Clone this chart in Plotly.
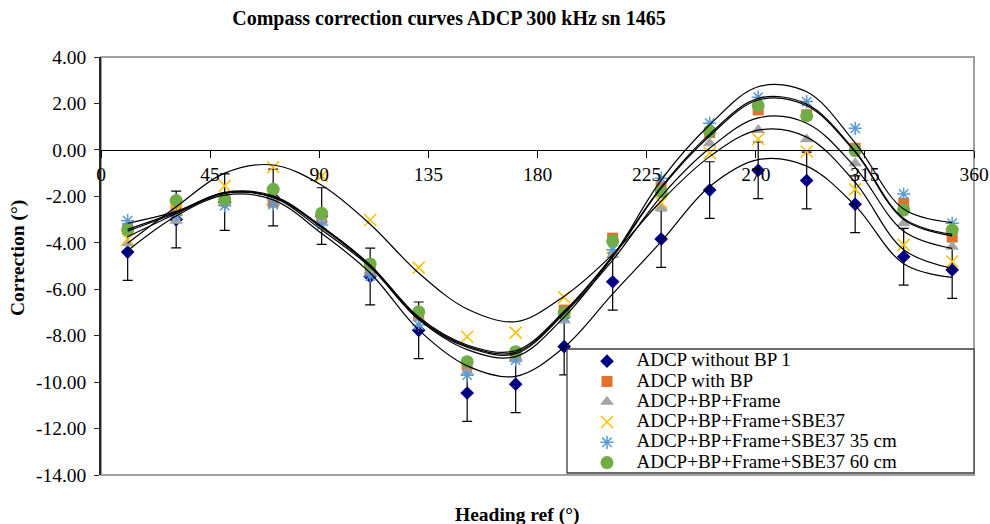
import plotly.graph_objects as go

# ---------------- data ----------------
heading = [11, 31, 51, 71, 91, 111, 131, 151, 171, 191, 211, 231, 251, 271, 291, 311, 331, 351]

adcp_no_bp = [-4.40, -3.00, -2.25, -2.05, -2.85, -5.45, -7.77, -10.47, -10.09, -8.47, -5.68, -3.84, -1.73, -0.88, -1.32, -2.34, -4.60, -5.17]
adcp_no_bp_err = [1.22] * 18
adcp_bp = [-3.40, -2.60, -2.20, -2.25, -2.95, -5.15, -7.07, -9.25, -8.91, -6.90, -3.80, -1.60, 0.75, 1.72, 1.51, 0.07, -2.30, -3.74]
adcp_bp_frame = [-4.02, -3.05, -2.25, -2.05, -3.00, -5.20, -7.25, -9.55, -9.00, -7.35, -4.53, -2.50, 0.29, 0.86, 0.46, -0.57, -3.16, -4.17]
adcp_sbe37 = [-3.85, -2.60, -1.55, -0.75, -1.12, -3.02, -5.07, -8.05, -7.87, -6.35, -4.20, -2.27, -0.14, 0.47, -0.07, -1.70, -4.09, -4.81]
adcp_sbe37_35 = [-3.05, -2.80, -2.40, -2.35, -3.23, -5.43, -7.54, -9.70, -9.05, -7.20, -4.30, -1.22, 1.15, 2.27, 2.08, 0.93, -1.90, -3.16]
adcp_sbe37_60 = [-3.45, -2.18, -2.13, -1.70, -2.73, -4.91, -6.97, -9.12, -8.69, -7.01, -3.92, -1.80, 0.79, 1.90, 1.47, -0.03, -2.59, -3.45]

# fitted correction curves
fit_no_bp = [-4.34, -2.85, -1.95, -2.15, -3.60, -5.30, -7.75, -9.30, -9.75, -8.50, -6.20, -3.95, -1.58, -0.42, -0.70, -2.40, -4.90, -5.49]
fit_bp = [-3.50, -2.72, -1.87, -2.02, -3.35, -5.00, -7.25, -8.45, -8.72, -7.00, -4.60, -1.65, 0.60, 2.15, 1.90, -0.10, -3.00, -3.70]
fit_bp_frame = [-3.74, -2.75, -1.85, -2.05, -3.45, -5.05, -7.30, -8.50, -8.78, -7.05, -4.75, -2.00, 0.07, 1.38, 1.15, -0.75, -3.50, -4.24]
fit_sbe37 = [-4.02, -2.45, -1.00, -0.65, -1.52, -3.20, -5.30, -6.85, -7.40, -6.30, -4.50, -2.20, -0.29, 0.85, 0.55, -1.40, -4.30, -5.10]
fit_sbe37_35 = [-3.16, -2.65, -1.85, -2.05, -3.30, -5.00, -7.30, -8.60, -8.90, -7.20, -4.60, -1.30, 1.08, 2.72, 2.50, 0.30, -2.55, -3.13]
fit_sbe37_60 = [-3.42, -2.68, -1.83, -1.98, -3.30, -4.95, -7.20, -8.40, -8.65, -6.95, -4.55, -1.60, 0.68, 2.22, 1.97, -0.05, -2.95, -3.64]

series_names = ["ADCP without BP 1", "ADCP with BP", "ADCP+BP+Frame",
                "ADCP+BP+Frame+SBE37", "ADCP+BP+Frame+SBE37 35 cm", "ADCP+BP+Frame+SBE37 60 cm"]

x_tickvals = [0, 45, 90, 135, 180, 225, 270, 315, 360]
x_ticktext = ["0", "45", "90", "135", "180", "225", "270", "315", "360"]
y_tickvals = [4, 2, 0, -2, -4, -6, -8, -10, -12, -14]
y_ticktext = ["4.00", "2.00", "0.00", "-2.00", "-4.00", "-6.00", "-8.00", "-10.00", "-12.00", "-14.00"]

title_text = "Compass correction curves ADCP 300 kHz sn 1465"
x_title = "Heading ref (°)"
y_title = "Correction (°)"

# ---------------- styling ----------------
FONT = "Liberation Serif, Times New Roman, serif"
styles = [
    dict(symbol="diamond", color="#000080", size=10.5),
    dict(symbol="square", color="#E0722E", size=11),
    dict(symbol="triangle-up", color="#A5A5A5", size=12),
    dict(symbol="x-thin", color="#FFC000", size=12),
    dict(symbol="asterisk", color="#5B9BD5", size=11),
    dict(symbol="circle", color="#70AD47", size=13),
]
values = [adcp_no_bp, adcp_bp, adcp_bp_frame, adcp_sbe37, adcp_sbe37_35, adcp_sbe37_60]
fits = [fit_no_bp, fit_bp, fit_bp_frame, fit_sbe37, fit_sbe37_35, fit_sbe37_60]

fig = go.Figure()

for i, (name, vals, st) in enumerate(zip(series_names, values, styles)):
    marker = dict(symbol=st["symbol"], color=st["color"], size=st["size"],
                  line=dict(width=0))
    if st["symbol"] in ("x-thin", "asterisk"):
        marker["line"] = dict(width=1.5, color=st["color"])
    tr = dict(x=heading, y=vals, mode="markers",
              name=f"<span style='font-size:19px'>&nbsp;&nbsp;{name}</span>",
              marker=marker, showlegend=True)
    if i == 0:
        tr["error_y"] = dict(type="data", array=adcp_no_bp_err, color="black", thickness=1.2, width=5)
    fig.add_trace(go.Scatter(**tr))

for f in fits:
    fig.add_trace(go.Scatter(x=heading, y=f, mode="lines", line=dict(color="black", width=1.2, shape="spline"),
                             showlegend=False, hoverinfo="skip"))

# plot area: x 101..974, y 57..475 px
L, R, T, B = 101, 974, 57, 475
W, H = 990, 524
pw, ph = R - L, B - T

def px2paper_x(px):
    return (px - L) / pw

def px2paper_y(py):
    return (B - py) / ph

fig.update_layout(
    width=W, height=H,
    margin=dict(l=L, r=W - R, t=T, b=H - B, autoexpand=False),
    paper_bgcolor="white", plot_bgcolor="white",
    font=dict(family=FONT, size=19.5, color="black"),
    title=dict(text=f"<b>{title_text}</b>", x=449 / W, xanchor="center", xref="container",
               y=1 - 18 / H, yanchor="middle", yref="container", font=dict(size=20, family=FONT, color="black")),
    showlegend=True,
    legend=dict(x=px2paper_x(587), y=px2paper_y(346), xanchor="left", yanchor="top",
                bgcolor="rgba(0,0,0,0)", borderwidth=0, font=dict(size=13.3, family=FONT, color="black")),
    xaxis=dict(range=[0, 360], tickvals=x_tickvals, ticktext=x_ticktext, showgrid=False, zeroline=False,
               showline=True, linecolor="black", linewidth=1.2, ticks="outside", ticklen=7, tickcolor="black",
               tickwidth=1.2, anchor="free", position=14 / 18, tickfont=dict(size=19.5, family=FONT)),
    yaxis=dict(range=[-14, 4], tickvals=y_tickvals, ticktext=y_ticktext, showgrid=False, zeroline=False,
               showline=True, linecolor="#262626", linewidth=1.6, ticks="outside", ticklen=5, tickcolor="#262626",
               tickwidth=1.2, ticklabelstandoff=4, tickfont=dict(size=19.5, family=FONT)),
    shapes=[
        dict(type="rect", xref="paper", yref="paper", x0=0, x1=1, y0=0, y1=1,
             line=dict(color="#A0A0A0", width=2), fillcolor="rgba(0,0,0,0)", layer="below"),
        dict(type="rect", xref="paper", yref="paper", x0=px2paper_x(567), x1=1, y0=px2paper_y(473), y1=px2paper_y(349),
             line=dict(color="#3C3C3C", width=1.3), fillcolor="white", layer="above"),
    ],
    annotations=[
        dict(text=f"<b>{x_title}</b>", xref="paper", yref="paper", x=px2paper_x(517), y=px2paper_y(515),
             xanchor="center", yanchor="middle", showarrow=False, font=dict(size=19.5, family=FONT, color="black")),
        dict(text=f"<b>{y_title}</b>", xref="paper", yref="paper", x=px2paper_x(18), y=px2paper_y(258),
             xanchor="center", yanchor="middle", textangle=-90, showarrow=False,
             font=dict(size=19.5, family=FONT, color="black")),
    ],
)

fig.write_html("out.html", config={"displayModeBar": False},
               post_script="document.body.style.margin='0';document.body.style.overflow='hidden';")
